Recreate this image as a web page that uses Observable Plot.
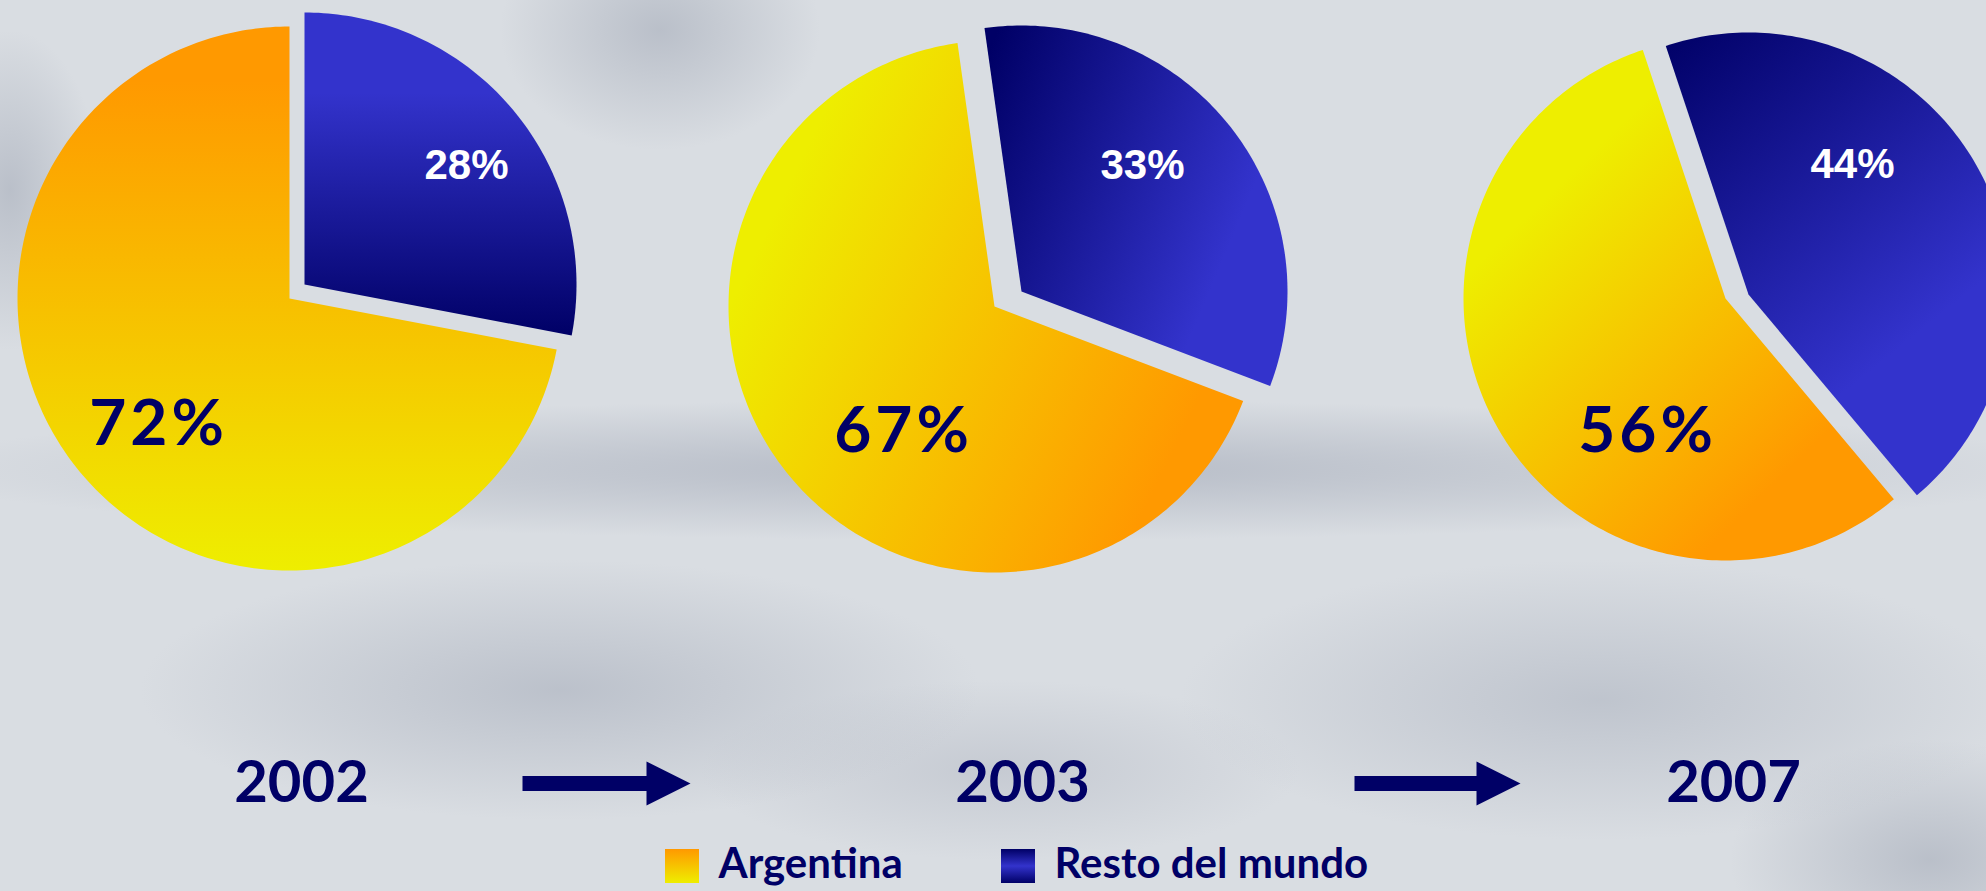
<!DOCTYPE html>
<html>
<head>
<meta charset="utf-8">
<script src="https://cdn.jsdelivr.net/npm/d3@7"></script>
<script src="https://cdn.jsdelivr.net/npm/@observablehq/plot@0.6"></script>
<style>
html, body { margin: 0; padding: 0; width: 1986px; height: 891px; overflow: hidden; }
body {
  background-color: #d9dde2;
  background-image:
    radial-gradient(ellipse 1100px 70px at 50% 470px, rgba(175,181,193,0.85), rgba(175,181,193,0) 100%),
    radial-gradient(ellipse 420px 130px at 560px 690px, rgba(180,186,197,0.8), rgba(180,186,197,0) 100%),
    radial-gradient(ellipse 420px 140px at 1600px 700px, rgba(180,186,197,0.7), rgba(180,186,197,0) 100%),
    radial-gradient(ellipse 160px 120px at 660px 30px, rgba(178,184,195,0.8), rgba(178,184,195,0) 100%),
    radial-gradient(ellipse 90px 160px at 10px 190px, rgba(178,184,195,0.8), rgba(178,184,195,0) 100%),
    radial-gradient(ellipse 200px 120px at 1930px 860px, rgba(178,184,195,0.8), rgba(178,184,195,0) 100%),
    radial-gradient(ellipse 300px 90px at 1000px 770px, rgba(185,190,200,0.6), rgba(185,190,200,0) 100%);
}
#chart svg { display: block; }
</style>
</head>
<body>
<div id="chart"></div>
<script>
// ---- data ----
const years = ["2002", "2003", "2007"];
const argentina = [72, 67, 56];
const restoDelMundo = [28, 33, 44];
const seriesNames = ["Argentina", "Resto del mundo"];

// ---- layout (pixels) ----
const W = 1986, H = 891;
const pieLayout = [
  {cx: 289, cy: 298, r: 272, rot: 0,     bdx: 15, bdy: -14, la: [-131, 126], lb: [162, -119]},
  {cx: 994, cy: 306, r: 266, rot: -8,    bdx: 27, bdy: -15, la: [-91, 125],  lb: [121, -126]},
  {cx: 1725, cy: 298, r: 262, rot: -18.4, bdx: 23, bdy: -4,  la: [-78, 133],  lb: [104, -130]}
];
const yearX = [301, 1022, 1733];
const yearY = 783;
const arrows = [[522, 690], [1354, 1520]];
const navy = "#000066";

function slicePoints(cx, cy, r, a0, a1) {
  const pts = [{x: cx, y: cy}];
  const n = Math.max(2, Math.ceil(Math.abs(a1 - a0)));
  for (let i = 0; i <= n; i++) {
    const a = (a0 + (a1 - a0) * i / n) * Math.PI / 180;
    pts.push({x: cx + r * Math.sin(a), y: cy - r * Math.cos(a)});
  }
  pts.push({x: cx, y: cy});
  return pts;
}

const marks = [];
const labelsNavy = [], labelsWhite = [];
years.forEach((yr, i) => {
  const L = pieLayout[i];
  const bEnd = L.rot + restoDelMundo[i] * 3.6;
  const aEnd = bEnd + argentina[i] * 3.6;
  // Argentina slice
  marks.push(Plot.line(slicePoints(L.cx, L.cy, L.r, bEnd, aEnd),
    {x: "x", y: "y", fill: `url(#gA${i})`, stroke: "none", curve: "linear"}));
  // Resto del mundo slice (exploded)
  const bx = L.cx + L.bdx, by = L.cy + L.bdy;
  marks.push(Plot.line(slicePoints(bx, by, L.r, L.rot, bEnd),
    {x: "x", y: "y", fill: `url(#gB${i})`, stroke: "none", curve: "linear"}));
  labelsNavy.push({x: L.cx + L.la[0], y: L.cy + L.la[1], t: argentina[i] + "%"});
  labelsWhite.push({x: bx + L.lb[0], y: by + L.lb[1], t: restoDelMundo[i] + "%"});
});

// arrows
arrows.forEach(([x0, x1]) => {
  const s = 7.5, hl = 44, hh = 22;
  const pts = [
    {x: x0, y: yearY - s}, {x: x1 - hl, y: yearY - s}, {x: x1 - hl, y: yearY - hh},
    {x: x1, y: yearY}, {x: x1 - hl, y: yearY + hh}, {x: x1 - hl, y: yearY + s},
    {x: x0, y: yearY + s}, {x: x0, y: yearY - s}
  ];
  marks.push(Plot.line(pts, {x: "x", y: "y", fill: navy, stroke: "none", curve: "linear"}));
});

marks.push(Plot.text(labelsNavy, {x: "x", y: "y", text: "t", fill: navy, fontSize: 64,
  fontWeight: 700, fontFamily: "Lato", className: "bigpct"}));
marks.push(Plot.text(labelsWhite, {x: "x", y: "y", text: "t", fill: "white", fontSize: 42,
  fontWeight: 700, fontFamily: "Liberation Sans"}));
marks.push(Plot.text(years.map((y, i) => ({x: yearX[i], y: yearY, t: y})),
  {x: "x", y: "y", text: "t", fill: navy, fontSize: 58, fontWeight: 700, fontFamily: "Lato"}));

// legend
const legend = [
  {x1: 665, x2: 699, tx: 718, name: seriesNames[0], g: "url(#legA)"},
  {x1: 1001, x2: 1035, tx: 1054, name: seriesNames[1], g: "url(#legB)"}
];
marks.push(Plot.rect(legend, {x1: "x1", x2: "x2", y1: () => 849, y2: () => 883, fill: (d) => d.g}));
marks.push(Plot.text(legend, {x: "tx", y: () => 864, text: "name", textAnchor: "start",
  fill: navy, fontSize: 42, fontWeight: 700, fontFamily: "Lato"}));

const chart = Plot.plot({
  width: W, height: H, margin: 0,
  x: {domain: [0, W], range: [0, W], axis: null},
  y: {domain: [0, H], range: [0, H], axis: null},
  color: {type: "identity"},
  style: {background: "transparent", overflow: "hidden"},
  marks
});

// gradients
const defs = d3.select(chart).insert("defs", ":first-child");
function grad(id, x1, y1, x2, y2, stops) {
  const g = defs.append("linearGradient").attr("id", id)
    .attr("x1", x1).attr("y1", y1).attr("x2", x2).attr("y2", y2);
  stops.forEach(([o, c]) => g.append("stop").attr("offset", o).attr("stop-color", c));
}
const Y = "#eeee00", O = "#ff9900", B = "#3333cc", D = "#000066";
grad("gA0", 0, 0, 0, 1, [[0, O], [0.1, O], [1, Y]]);
grad("gB0", 0, 0, 0, 1, [[0, B], [0.25, B], [1, D]]);
grad("gA1", 0, 0.25, 1, 0.75, [[0, Y], [0.1, Y], [0.9, O], [1, O]]);
grad("gB1", 0, 0.1, 1, 0.6, [[0, D], [0.85, B], [1, B]]);
grad("gA2", 0.1, 0.15, 0.8, 1, [[0, Y], [0.15, Y], [0.85, O], [1, O]]);
grad("gB2", 0, 0, 0.6, 1, [[0, D], [0.8, B], [1, B]]);
grad("legA", 0, 0, 0, 1, [[0, O], [1, Y]]);
grad("legB", 0, 0, 0, 1, [[0, D], [0.5, B], [1, D]]);

d3.select(chart).selectAll(".bigpct text").attr("letter-spacing", "4px");

document.getElementById("chart").appendChild(chart);
</script>
</body>
</html>
